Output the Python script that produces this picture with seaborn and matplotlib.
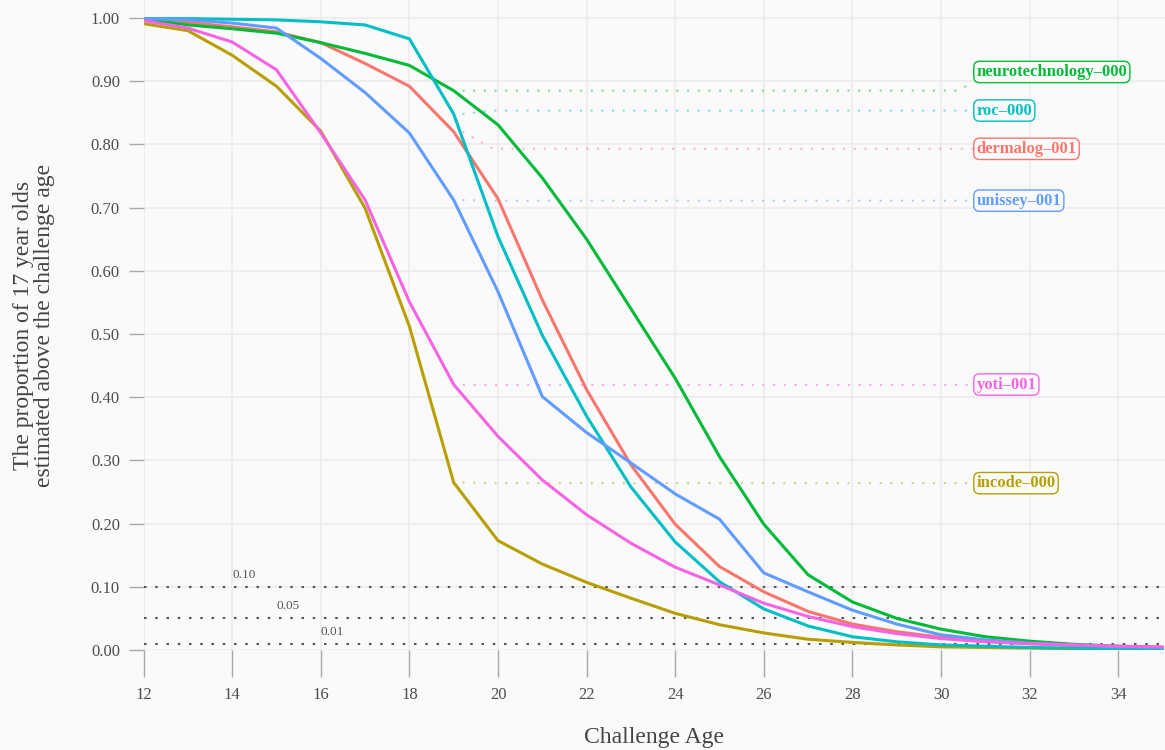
import numpy as np
import pandas as pd
import matplotlib
matplotlib.use("Agg")
import matplotlib.pyplot as plt
import seaborn as sns

# ---------------- data ----------------
ages = list(range(12, 36))

dermalog_001 = [0.998, 0.993, 0.986, 0.978, 0.961, 0.928, 0.892, 0.820, 0.714, 0.554,
                0.412, 0.293, 0.199, 0.132, 0.092, 0.061, 0.041, 0.029, 0.020, 0.014,
                0.010, 0.007, 0.005, 0.004]
incode_000 = [0.991, 0.980, 0.941, 0.892, 0.821, 0.699, 0.512, 0.265, 0.173, 0.136,
              0.107, 0.082, 0.058, 0.040, 0.027, 0.017, 0.012, 0.008, 0.005, 0.004,
              0.003, 0.002, 0.002, 0.001]
neurotechnology_000 = [0.998, 0.989, 0.983, 0.976, 0.961, 0.944, 0.925, 0.885, 0.831, 0.747,
                       0.650, 0.540, 0.430, 0.306, 0.199, 0.119, 0.076, 0.050, 0.033, 0.021,
                       0.014, 0.009, 0.006, 0.004]
roc_000 = [0.999, 0.999, 0.998, 0.997, 0.994, 0.989, 0.967, 0.848, 0.654, 0.498,
           0.370, 0.258, 0.171, 0.108, 0.065, 0.038, 0.021, 0.013, 0.008, 0.006,
           0.004, 0.003, 0.002, 0.002]
unissey_001 = [0.999, 0.997, 0.992, 0.984, 0.936, 0.882, 0.818, 0.712, 0.567, 0.401,
               0.344, 0.296, 0.247, 0.207, 0.122, 0.092, 0.063, 0.041, 0.024, 0.016,
               0.011, 0.008, 0.005, 0.004]
yoti_001 = [0.996, 0.984, 0.962, 0.918, 0.818, 0.712, 0.551, 0.420, 0.338, 0.269,
            0.214, 0.169, 0.131, 0.103, 0.074, 0.053, 0.037, 0.026, 0.018, 0.013,
            0.010, 0.008, 0.006, 0.005]

algorithms = ["dermalog-001", "incode-000", "neurotechnology-000", "roc-000",
              "unissey-001", "yoti-001"]
series = [dermalog_001, incode_000, neurotechnology_000, roc_000, unissey_001, yoti_001]

thresholds = [0.10, 0.05, 0.01]
threshold_labels = ["0.10", "0.05", "0.01"]
threshold_label_ages = [14, 15, 16]

label_age = 19  # labels refer to the value at this challenge age

x_ticks = list(range(12, 35, 2))
y_ticks = [0.0, 0.1, 0.2, 0.3, 0.4, 0.5, 0.6, 0.7, 0.8, 0.9, 1.0]

# ---------------- layout / style ----------------
colors = ["#F8766D", "#B79F00", "#00BA38", "#00BFC4", "#619CFF", "#F564E3"]
label_positions_y = {"neurotechnology-000": 0.9146, "roc-000": 0.8536,
                     "dermalog-001": 0.793, "unissey-001": 0.711,
                     "yoti-001": 0.420, "incode-000": 0.264}
label_x = 30.8
BG = "#FAFAFA"
GRID = "#EBEBEB"
TXT = "#4D4D4D"

df = pd.DataFrame({
    "age": ages * len(algorithms),
    "prop": sum(series, []),
    "algorithm": sum([[a] * len(ages) for a in algorithms], []),
})

sns.set_theme(style="white")
plt.rcParams["font.family"] = ["Liberation Serif", "DejaVu Serif"]

W, H = 1165, 750
fig = plt.figure(figsize=(W / 100, H / 100), dpi=100, facecolor=BG)
left_px, bottom_px, top_px = 143.6, 650.0, 0.0
ax = fig.add_axes([left_px / W, 1 - bottom_px / H, (W - left_px) / W, (bottom_px - top_px) / H])
ax.set_facecolor(BG)

sns.lineplot(data=df, x="age", y="prop", hue="algorithm", hue_order=algorithms,
             palette=colors, linewidth=2.2, ax=ax, legend=False, zorder=3)

ax.set_xlim(12, 12 + (W - left_px) / 44.3)
ax.set_ylim(0, bottom_px / 632.0)

ax.set_xticks(x_ticks)
ax.set_xticklabels([str(t) for t in x_ticks])
ax.set_yticks(y_ticks)
ax.set_yticklabels([f"{v:.2f}" for v in y_ticks])
ax.grid(True, color=GRID, linewidth=1.1)
ax.set_axisbelow(True)
for s in ax.spines.values():
    s.set_visible(False)
ax.tick_params(axis="x", bottom=True, length=19.4, width=1.0, color="#A8A8A8",
               pad=7, labelsize=12, labelcolor=TXT, direction="out")
ax.tick_params(axis="y", left=True, length=10.5, width=1.0, color="#A8A8A8",
               pad=6.5, labelsize=12, labelcolor=TXT, direction="out")
ax.set_xlabel("")
ax.set_ylabel("")

# threshold lines
for t, lab, a in zip(thresholds, threshold_labels, threshold_label_ages):
    ax.axhline(t, color="#555555", linewidth=1.5, linestyle=(0, (1.2, 4.2)), zorder=2)
    ax.text(a, t + 0.019, lab, fontsize=9.5, color="#555555", ha="left", va="center",
            zorder=4)

# labels with dotted leader segments
idx = ages.index(label_age)
box_half = 0.017
for name, vals, c in zip(algorithms, series, colors):
    ly = label_positions_y[name]
    v = vals[idx]
    flat_y = ly if abs(v - ly) < 0.028 else v
    end_y = float(np.clip(flat_y, ly - box_half, ly + box_half))
    xs = [label_age + 0.2, label_age + 0.9, label_x - 0.45, label_x - 0.08]
    ys = [v, flat_y, flat_y, end_y]
    ax.plot(xs, ys, color=c, alpha=0.55, linewidth=1.4,
            linestyle=(0, (1, 4.5)), zorder=2)
    ax.text(label_x, ly, name.replace("-", "\u2013"), fontsize=12, fontweight="bold",
            color=c, ha="left", va="center", zorder=5,
            bbox=dict(boxstyle="round,pad=0.16,rounding_size=0.35", fc=BG, ec=c, lw=1.0))

fig.text(654 / W, 1 - 737 / H, "Challenge Age", fontsize=17, color="#444444",
         ha="center", va="center")
fig.text(34 / W, 1 - 325 / H,
         "The proportion of 17 year olds\nestimated above the challenge age",
         fontsize=17, color="#444444", ha="center", va="center", rotation=90,
         multialignment="center", linespacing=1.05)

fig.savefig("out.png", dpi=100, facecolor=BG)
